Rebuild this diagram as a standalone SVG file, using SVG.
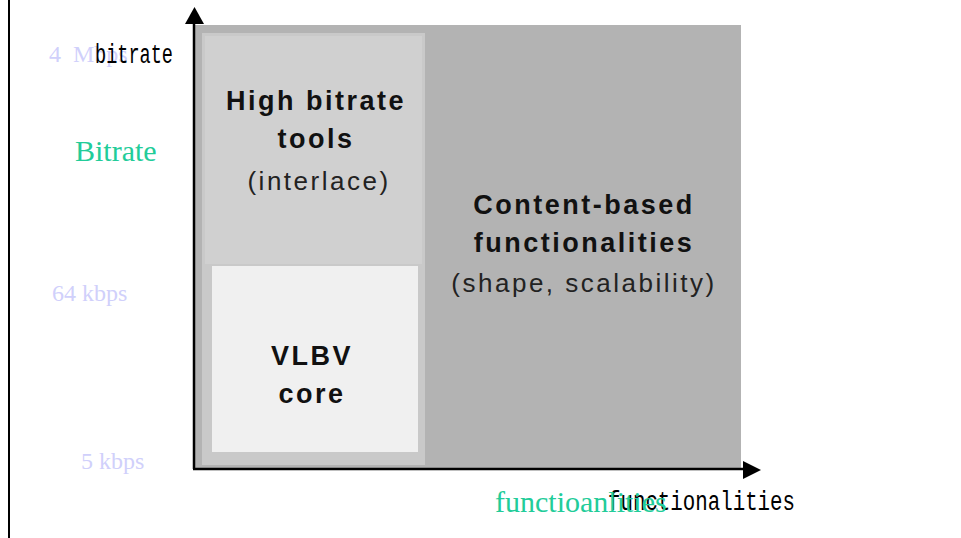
<svg xmlns="http://www.w3.org/2000/svg" width="961" height="538" viewBox="0 0 961 538">
<style>
.lbl{font-family:"Liberation Serif","Times New Roman",serif;font-size:24px;fill:#d0d0fb;white-space:pre}
.grn{font-family:"Liberation Serif","Times New Roman",serif;font-size:30px;fill:#22cc99}
.mono{font-family:"Liberation Mono","DejaVu Sans Mono",monospace;fill:#000}
.b{font-family:"Liberation Sans",Arial,sans-serif;font-size:27px;font-weight:bold;fill:#111;letter-spacing:2.5px;text-anchor:middle}
.n{font-family:"Liberation Sans",Arial,sans-serif;font-size:26px;fill:#222;letter-spacing:2.5px;text-anchor:middle}
.ax{stroke:#000;stroke-width:2.5;fill:none}
</style>
<rect width="961" height="538" fill="#fff"/>
<line x1="9" y1="0" x2="9" y2="538" stroke="#000" stroke-width="2"/>
<g id="content-based">
<rect x="195" y="25" width="546" height="443" fill="#b3b3b3"/>
<text class="b" x="584" y="214">Content-based</text>
<text class="b" x="584" y="252">functionalities</text>
<text class="n" x="584" y="292">(shape, scalability)</text>
</g>
<g id="high-bitrate">
<rect x="202" y="33" width="223" height="432" fill="#c9c9c9"/>
<rect x="205" y="36" width="217" height="228" fill="#d0d0d0"/>
<text class="b" x="316" y="110">High bitrate</text>
<text class="b" x="316" y="148">tools</text>
<text class="n" x="319" y="190">(interlace)</text>
</g>
<g id="vlbv">
<rect x="212" y="266" width="206" height="186" fill="#f0f0f0"/>
<text class="b" x="312" y="365">VLBV</text>
<text class="b" x="312" y="403">core</text>
</g>
<g id="axes">
<line class="ax" x1="194" y1="22" x2="194" y2="469"/>
<polygon points="194.5,7 185,24 204,24" fill="#000"/>
<line class="ax" x1="193" y1="469" x2="746" y2="469"/>
<polygon points="761,470 743,461 743,479" fill="#000"/>
</g>
<g id="labels">
<text class="lbl" x="49" y="62">4  Mbps</text>
<text class="mono" x="95" y="63" font-size="27" textLength="78" lengthAdjust="spacingAndGlyphs">bitrate</text>
<text class="grn" x="75" y="161">Bitrate</text>
<text class="lbl" x="52" y="301">64 kbps</text>
<text class="lbl" x="81" y="469">5 kbps</text>
<text class="mono" x="608" y="510" font-size="27" textLength="187" lengthAdjust="spacingAndGlyphs">functionalities</text>
<text class="grn" x="495" y="512">functioanlities</text>
</g>
</svg>
